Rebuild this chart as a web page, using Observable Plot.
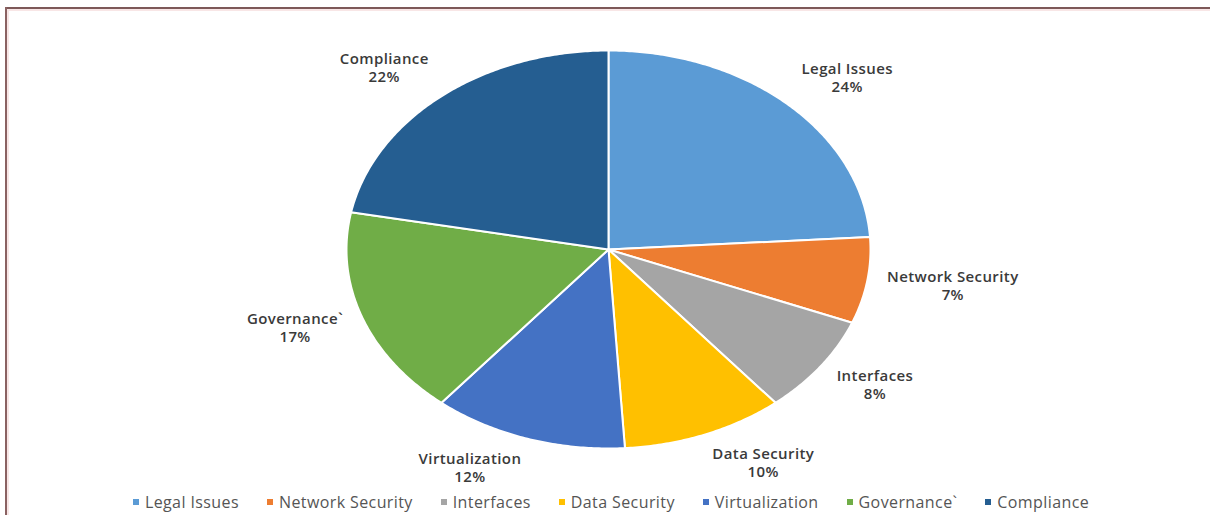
<!DOCTYPE html>
<html>
<head>
<meta charset="utf-8">
<script src="https://cdn.jsdelivr.net/npm/d3@7"></script>
<script src="https://cdn.jsdelivr.net/npm/@observablehq/plot@0.6"></script>
<style>
  html, body { margin: 0; padding: 0; background: #fff; overflow: hidden; width: 1210px; height: 515px; }
  #wrap { position: relative; width: 1210px; height: 515px; overflow: hidden; background: #fff; }
  #ftop { position: absolute; left: 5px; top: 7px; width: 1205px; height: 2px; background: #7d5858; }
  #ftop2 { position: absolute; left: 7px; top: 9px; width: 1203px; height: 2px; background: #f8e6e6; }
  #fleft { position: absolute; left: 5px; top: 7px; width: 2px; height: 508px; background: #8a6262; }
  #fleft2 { position: absolute; left: 7px; top: 9px; width: 2px; height: 506px; background: #f8e6e6; }
  #chart { position: absolute; left: 0; top: 0; }
  #legend { position: absolute; left: 0; top: 491px; width: 1210px; display: flex; justify-content: center;
            gap: 28px; font-family: "Open Sans", sans-serif; font-size: 16px; letter-spacing: 0.4px; color: #555555; padding-left: 12px; box-sizing: border-box; }
  #legend .item { display: flex; align-items: center; white-space: nowrap; }
  #legend .sw { width: 6px; height: 6px; margin-right: 6px; }
</style>
</head>
<body>
<div id="wrap">
  <div id="ftop"></div><div id="ftop2"></div><div id="fleft"></div><div id="fleft2"></div>
  <div id="chart"></div>
  <div id="legend"></div>
</div>
<script>
const categories = ["Legal Issues", "Network Security", "Interfaces", "Data Security", "Virtualization", "Governance`", "Compliance"];
const percents = [24, 7, 8, 10, 12, 17, 22];
const colors = ["#5B9BD5", "#ED7D31", "#A5A5A5", "#FFC000", "#4472C4", "#70AD47", "#255E91"];

// layout constants
const W = 1210, H = 488;
const cx = 608, cy = 249, rx = 262, ry = 199;
const labelSize = 15, labelSpacing = 0.4;
const labelFont = `600 ${labelSize}px 'Open Sans'`;

// build slice polygons (geometry of each wedge from the percentages)
const total = d3.sum(percents);
const slices = [];
const points = [];
let cum = 0;
categories.forEach((c, i) => {
  const a0 = 2 * Math.PI * cum / total;
  const a1 = 2 * Math.PI * (cum + percents[i]) / total;
  const steps = Math.max(8, Math.ceil((a1 - a0) / 0.01));
  points.push({cat: c, x: 0, y: 0});
  for (let k = 0; k <= steps; k++) {
    const a = a0 + (a1 - a0) * k / steps;
    points.push({cat: c, x: Math.sin(a), y: Math.cos(a)});
  }
  slices.push({cat: c, pct: percents[i], mid: (a0 + a1) / 2});
  cum += percents[i];
});

// label placement (outside end, like Excel)
const ctx = document.createElement("canvas").getContext("2d");
ctx.font = labelFont;
const tw = s => ctx.measureText(s).width + labelSpacing * s.length;
const labels = slices.map(s => {
  const sn = Math.sin(s.mid), cs = Math.cos(s.mid);
  const w = Math.max(tw(s.cat), tw(s.pct + "%"));
  const ex = cx + rx * sn, ey = cy - ry * cs;
  const px = ex + 20 * sn + Math.sign(sn) * w / 2;
  const py = ey - (cs > 0 ? 37 : 30) * cs;
  return {text: s.cat + "\n" + s.pct + "%", x: (px - cx) / rx, y: (cy - py) / ry};
});

const chart = Plot.plot({
  width: W,
  height: H,
  margin: 0,
  x: {domain: [-1, 1], range: [cx - rx, cx + rx], axis: null},
  y: {domain: [-1, 1], range: [cy + ry, cy - ry], axis: null},
  color: {domain: categories, range: colors},
  style: {background: "transparent"},
  marks: [
    Plot.line(points, {x: "x", y: "y", z: "cat", fill: "cat", stroke: "#ffffff", strokeWidth: 2, curve: "linear-closed", strokeLinejoin: "round"}),
    Plot.text(labels, {x: "x", y: "y", text: "text", fontFamily: "Open Sans", fontWeight: 600, fontSize: labelSize, fill: "#3a3a3a", lineHeight: 1.2, textAnchor: "middle", lineAnchor: "middle"})
  ]
});
chart.querySelectorAll("text").forEach(t => t.style.letterSpacing = labelSpacing + "px");
document.getElementById("chart").appendChild(chart);

// legend
const legend = document.getElementById("legend");
categories.forEach((c, i) => {
  const item = document.createElement("div");
  item.className = "item";
  const sw = document.createElement("span");
  sw.className = "sw";
  sw.style.background = colors[i];
  const t = document.createElement("span");
  t.textContent = c;
  item.appendChild(sw);
  item.appendChild(t);
  legend.appendChild(item);
});
</script>
</body>
</html>
